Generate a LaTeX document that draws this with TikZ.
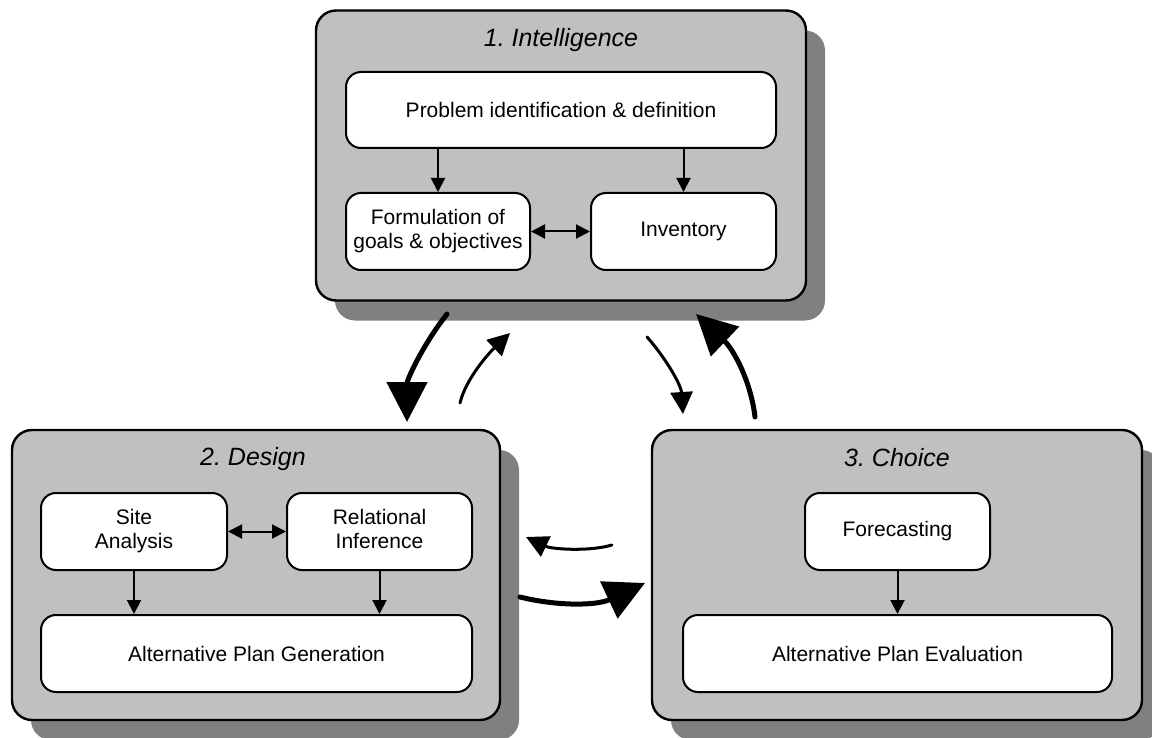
\documentclass[tikz,border=0pt]{standalone}
\usepackage{fontspec}
\setmainfont{Liberation Sans}
\usetikzlibrary{arrows.meta,shadows}
\definecolor{panelgray}{HTML}{C0C0C0}
\definecolor{shadowgray}{HTML}{808080}
\frenchspacing

\tikzset{
  stage/.style={draw=black, line width=2.4pt, fill=panelgray, rounded corners=20pt,
    drop shadow={shadow xshift=19pt, shadow yshift=-20pt, fill=shadowgray, opacity=1},
    minimum width=490pt, minimum height=290pt, inner sep=0pt},
  task/.style={draw=black, line width=2pt, fill=white, rounded corners=15pt, align=center,
    font=\fontsize{21}{24}\selectfont, inner sep=0pt, minimum height=77pt},
  twoline/.style={text depth=5pt},
  stagetitle/.style={font=\fontsize{25}{30}\selectfont\itshape},
  link/.style={line width=2pt, -{Triangle[length=14pt,width=14pt]}},
  duallink/.style={line width=2pt, {Triangle[length=14pt,width=14pt]}-{Triangle[length=14pt,width=14pt]}},
  bigflow/.style={line width=5pt, line cap=round, -{Triangle[length=40pt,width=40pt]}},
  smallflow/.style={line width=3pt, line cap=round, -{Triangle[length=22pt,width=22pt]}},
}

\begin{document}
\begin{tikzpicture}[x=1pt,y=-1pt]
\useasboundingbox (0,0) rectangle (1152,738);

% the three phases
\node[stage] (intel)  at (561,155.5) {};
\node[stage, minimum width=488pt] (design) at (256,575) {};
\node[stage] (choice) at (897,575) {};

\node[stagetitle] (intelT)  at (561,40)  {1. Intelligence};
\node[stagetitle] (designT) at (253,459) {2. Design};
\node[stagetitle] (choiceT) at (897,458) {3. Choice};

% intelligence
\node[task, minimum width=430pt, minimum height=76pt] (prob) at (561,110) {Problem identification \& definition};
\node[task, twoline, minimum width=184pt] (form) at (438,231.5) {Formulation of\\goals \& objectives};
\node[task, minimum width=185pt] (inv)  at (683.5,231.5) {Inventory};

% design
\node[task, twoline, minimum width=186pt] (site) at (134,531.5) {Site\\Analysis};
\node[task, twoline, minimum width=185pt] (rel)  at (379.5,531.5) {Relational\\Inference};
\node[task, minimum width=431pt] (gen)  at (256.5,653.5) {Alternative Plan Generation};

% choice
\node[task, minimum width=185pt] (fore) at (897.5,531.5) {Forecasting};
\node[task, minimum width=429pt] (eval) at (897.5,653.5) {Alternative Plan Evaluation};

% links inside the phases
\draw[link] (prob.south -| form.north) -- (form.north);
\draw[link] (prob.south -| inv.north) -- (inv.north);
\draw[duallink] (form) -- (inv);
\draw[link] (site) -- (site |- gen.north);
\draw[link] (rel) -- (rel |- gen.north);
\draw[duallink] (site) -- (rel);
\draw[link] (fore) -- (eval);

% cycle between the phases
\coordinate (idS) at (447,314);  \coordinate (idE) at (407,422);
\coordinate (diS) at (460,403);  \coordinate (diE) at (510,333);
\coordinate (icS) at (647,337);  \coordinate (icE) at (683,414);
\coordinate (ciS) at (755,417);  \coordinate (ciE) at (696,314);
\coordinate (cdS) at (612,545);  \coordinate (cdE) at (526,537);
\coordinate (dcS) at (520,597);  \coordinate (dcE) at (645,583);

\draw[bigflow]   (idS) .. controls (422,346) and (407,380) .. (idE);
\draw[smallflow] (diS) .. controls (466,378) and (490,352) .. (diE);
\draw[smallflow] (icS) .. controls (664,356) and (681,384) .. (icE);
\draw[bigflow]   (ciS) .. controls (751,382) and (734,350) .. (ciE);
\draw[smallflow] (cdS) .. controls (588,552) and (551,549) .. (cdE);
\draw[bigflow]   (dcS) .. controls (556,606) and (596,606) .. (dcE);
\end{tikzpicture}
\end{document}
